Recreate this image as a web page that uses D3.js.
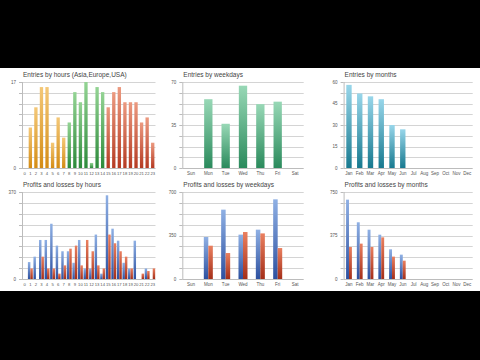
<!DOCTYPE html>
<html><head><meta charset="utf-8">
<script src="https://cdn.jsdelivr.net/npm/d3@7"></script>
<style>html,body{margin:0;padding:0;background:#000;}svg{display:block;}</style>
</head><body>
<svg id="c" width="480" height="360"></svg>
<script>
const hours = d3.range(24).map(String);
const weekdays = ["Sun","Mon","Tue","Wed","Thu","Fri","Sat"];
const months = ["Jan","Feb","Mar","Apr","May","Jun","Jul","Aug","Sep","Oct","Nov","Dec"];

const entriesByHour = [0,8,12,16,16,5,10,6,9,15,13,17,1,16,15,12,15,16,13,13,13,9,10,5];
const entriesByWeekday = [0,56,36,67,52,54,0];
const entriesByMonth = [58,52,50,48,30,27,0,0,0,0,0,0];

const profitsByHour = [0,72,95,166,166,235,142,118,118,69,166,45,45,189,23,356,214,163,69,45,163,0,45,0];
const lossesByHour  = [0,45,0,95,45,45,23,58,129,142,58,166,118,58,45,189,152,118,95,45,0,23,34,45];
const profitsByWeekday = [0,338,558,357,397,641,0];
const lossesByWeekday  = [0,268,209,378,367,249,0];
const profitsByMonth = [684,489,425,382,256,210,0,0,0,0,0,0];
const lossesByMonth  = [276,305,276,359,193,158,0,0,0,0,0,0];

const hourTicks = ["0","17"], weekdayTicks = ["0","35","70"], monthTicks = ["0","15","30","45","60"];
const plHourTicks = ["0","370"], plWeekdayTicks = ["0","350","700"], plMonthTicks = ["0","375","750"];

const svg = d3.select("#c");
svg.append("rect").attr("x",0).attr("y",68).attr("width",480).attr("height",223).attr("fill","#fff");

const defs = svg.append("defs");
function grad(id, top, bottom){
  const g = defs.append("linearGradient").attr("id",id).attr("x1",0).attr("y1",0).attr("x2",0).attr("y2",1);
  g.append("stop").attr("offset","0%").attr("stop-color",top);
  g.append("stop").attr("offset","100%").attr("stop-color",bottom);
}
grad("gGold","#f4c878","#d48c14");
grad("gGreen","#94d494","#2c8a3a");
grad("gRed","#ec9a80","#b53a22");
grad("gWk","#98d8b6","#2a8a5c");
grad("gMo","#98d6ea","#17798f");
grad("gBlue","#8fb0e4","#2c50a0");
grad("gLoss","#ea8060","#a42e18");

function panel(o){
  const g = svg.append("g");
  const x = d3.scaleBand().domain(o.cats).range([o.x0,o.x1]);
  const y = d3.scaleLinear().domain([0,o.max]).range([o.y1,o.y0]);
  const grid = d3.range(9).map(i=>o.max*i/8);
  g.selectAll(".gl").data(grid).join("line")
    .attr("x1",o.x0).attr("x2",o.x1).attr("y1",d=>Math.round(y(d))+0.5).attr("y2",d=>Math.round(y(d))+0.5)
    .attr("stroke",d=>d===0?"#bcbcbc":"#d4d4d4").attr("stroke-width",1);
  g.selectAll(".tk").data(grid).join("line")
    .attr("x1",o.x0-3).attr("x2",o.x0).attr("y1",d=>Math.round(y(d))+0.5).attr("y2",d=>Math.round(y(d))+0.5)
    .attr("stroke","#bcbcbc");
  g.append("line").attr("x1",o.x0+0.5).attr("x2",o.x0+0.5).attr("y1",o.y0).attr("y2",o.y1+0.5).attr("stroke","#bcbcbc");
  g.selectAll(".yl").data(o.ticks).join("text")
    .attr("x",o.x0-6).attr("y",d=>y(+d)+1.5).attr("text-anchor","end")
    .attr("font-family","Liberation Sans, Arial, sans-serif").attr("font-size",4.5).attr("fill","#555").text(d=>d);
  g.selectAll(".xl").data(o.cats).join("text")
    .attr("x",d=>x(d)+x.bandwidth()/2).attr("y",o.y1+7).attr("text-anchor","middle")
    .attr("font-family","Liberation Sans, Arial, sans-serif").attr("font-size",o.xfs||4.5).attr("fill","#555").text(d=>d);
  g.append("text").attr("x",o.x0+1).attr("y",o.y0-5).attr("font-family","Liberation Sans, Arial, sans-serif")
    .attr("font-size",6.5).attr("fill","#444").text(o.title);
  if(o.series.length===1){
    const s=o.series[0];
    const bw = x.bandwidth()*o.bw;
    g.selectAll(".b").data(o.cats).join("rect")
      .attr("x",(d)=>x(d)+(x.bandwidth()-bw)/2).attr("width",bw)
      .attr("y",(d,i)=>y(s.values[i])).attr("height",(d,i)=>y(0)-y(s.values[i]))
      .attr("fill",(d,i)=>s.fill(i));
  } else {
    const bw = x.bandwidth()*o.bw/2;
    o.series.forEach((s,k)=>{
      g.selectAll(".b"+k).data(o.cats).join("rect")
        .attr("x",(d)=>x(d)+(x.bandwidth()-2*bw)/2+k*bw).attr("width",bw)
        .attr("y",(d,i)=>y(s.values[i])).attr("height",(d,i)=>y(0)-y(s.values[i]))
        .attr("fill",(d,i)=>s.fill(i));
    });
  }
}

panel({title:"Entries by hours (Asia,Europe,USA)",cats:hours,x0:22,x1:155.5,y0:82,y1:168,max:17,ticks:hourTicks,bw:0.6,xfs:4.2,
  series:[{values:entriesByHour,fill:i=>i<8?"url(#gGold)":(i<15?"url(#gGreen)":"url(#gRed)")}]});
panel({title:"Entries by weekdays",cats:weekdays,x0:182.3,x1:303.7,y0:82,y1:168,max:70,ticks:weekdayTicks,bw:0.48,
  series:[{values:entriesByWeekday,fill:()=>"url(#gWk)"}]});
panel({title:"Entries by months",cats:months,x0:343.6,x1:472.7,y0:82,y1:168,max:60,ticks:monthTicks,bw:0.5,
  series:[{values:entriesByMonth,fill:()=>"url(#gMo)"}]});

panel({title:"Profits and losses by hours",cats:hours,x0:22,x1:155.5,y0:192,y1:279,max:370,ticks:plHourTicks,bw:0.88,xfs:4.2,
  series:[{values:profitsByHour,fill:()=>"url(#gBlue)"},{values:lossesByHour,fill:()=>"url(#gLoss)"}]});
panel({title:"Profits and losses by weekdays",cats:weekdays,x0:182.3,x1:303.7,y0:192,y1:279,max:700,ticks:plWeekdayTicks,bw:0.52,
  series:[{values:profitsByWeekday,fill:()=>"url(#gBlue)"},{values:lossesByWeekday,fill:()=>"url(#gLoss)"}]});
panel({title:"Profits and losses by months",cats:months,x0:343.6,x1:472.7,y0:192,y1:279,max:750,ticks:plMonthTicks,bw:0.54,
  series:[{values:profitsByMonth,fill:()=>"url(#gBlue)"},{values:lossesByMonth,fill:()=>"url(#gLoss)"}]});
</script>
</body></html>
